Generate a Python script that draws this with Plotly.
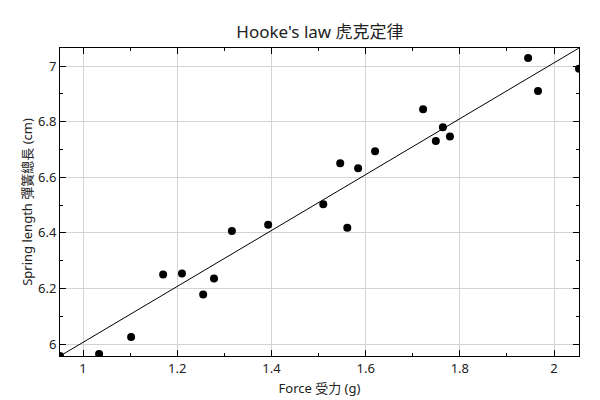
import plotly.graph_objects as go

force = [0.951, 1.034, 1.102, 1.170, 1.210, 1.255, 1.278, 1.316, 1.393, 1.510,
         1.546, 1.561, 1.584, 1.620, 1.722, 1.749, 1.764, 1.779, 1.945, 1.966, 2.053]
length = [5.957, 5.964, 6.025, 6.250, 6.254, 6.178, 6.236, 6.407, 6.429, 6.503,
          6.650, 6.418, 6.632, 6.694, 6.845, 6.730, 6.780, 6.747, 7.029, 6.910, 6.990]

fit_x = [0.951, 2.053]
fit_y = [5.957, 7.065]

x_ticks = [1, 1.2, 1.4, 1.6, 1.8, 2]
y_ticks = [6, 6.2, 6.4, 6.6, 6.8, 7]

font = "Noto Sans, Noto Sans CJK TC, sans-serif"
text_color = "#222"

fig = go.Figure()
fig.add_trace(go.Scatter(x=fit_x, y=fit_y, mode="lines",
                         line=dict(color="black", width=1), showlegend=False,
                         hoverinfo="skip"))
fig.add_trace(go.Scatter(x=force, y=length, mode="markers",
                         marker=dict(color="black", size=8), showlegend=False,
                         cliponaxis=True))

axis_common = dict(
    showline=True, linecolor="black", linewidth=1, mirror="allticks",
    ticks="inside", ticklen=6, tickcolor="black", automargin=False,
    showgrid=True, gridcolor="#d3d3d3", gridwidth=1, zeroline=False,
    tickfont=dict(family=font, size=13, color=text_color),
)

# the page body has an 8px default margin, so the figure is sized/margined to compensate
fig.update_layout(
    width=592, height=392,
    paper_bgcolor="white", plot_bgcolor="white",
    margin=dict(l=52, r=21, t=40, b=44),
    title=dict(text="Hooke's law 虎克定律", x=0.527, xanchor="center", y=0.939,
               yanchor="middle", font=dict(family=font, size=17, color=text_color),
               automargin=False),
    xaxis=dict(range=[0.951, 2.053], tickvals=x_ticks,
               ticktext=[str(v) for v in x_ticks],
               minor=dict(ticks="inside", ticklen=3, tickcolor="black",
                          showgrid=False, dtick=0.1, tick0=0),
               title=dict(text="Force 受力 (g)", standoff=8,
                          font=dict(family=font, size=13, color=text_color)),
               **axis_common),
    yaxis=dict(range=[5.957, 7.065], tickvals=y_ticks,
               ticktext=[str(v) for v in y_ticks],
               minor=dict(ticks="inside", ticklen=3, tickcolor="black",
                          showgrid=False, dtick=0.1, tick0=0),
               title=dict(text="Spring length 彈簧總長 (cm)", standoff=2,
                          font=dict(family=font, size=13, color=text_color)),
               **axis_common),
)

fig.write_html("out.html")
